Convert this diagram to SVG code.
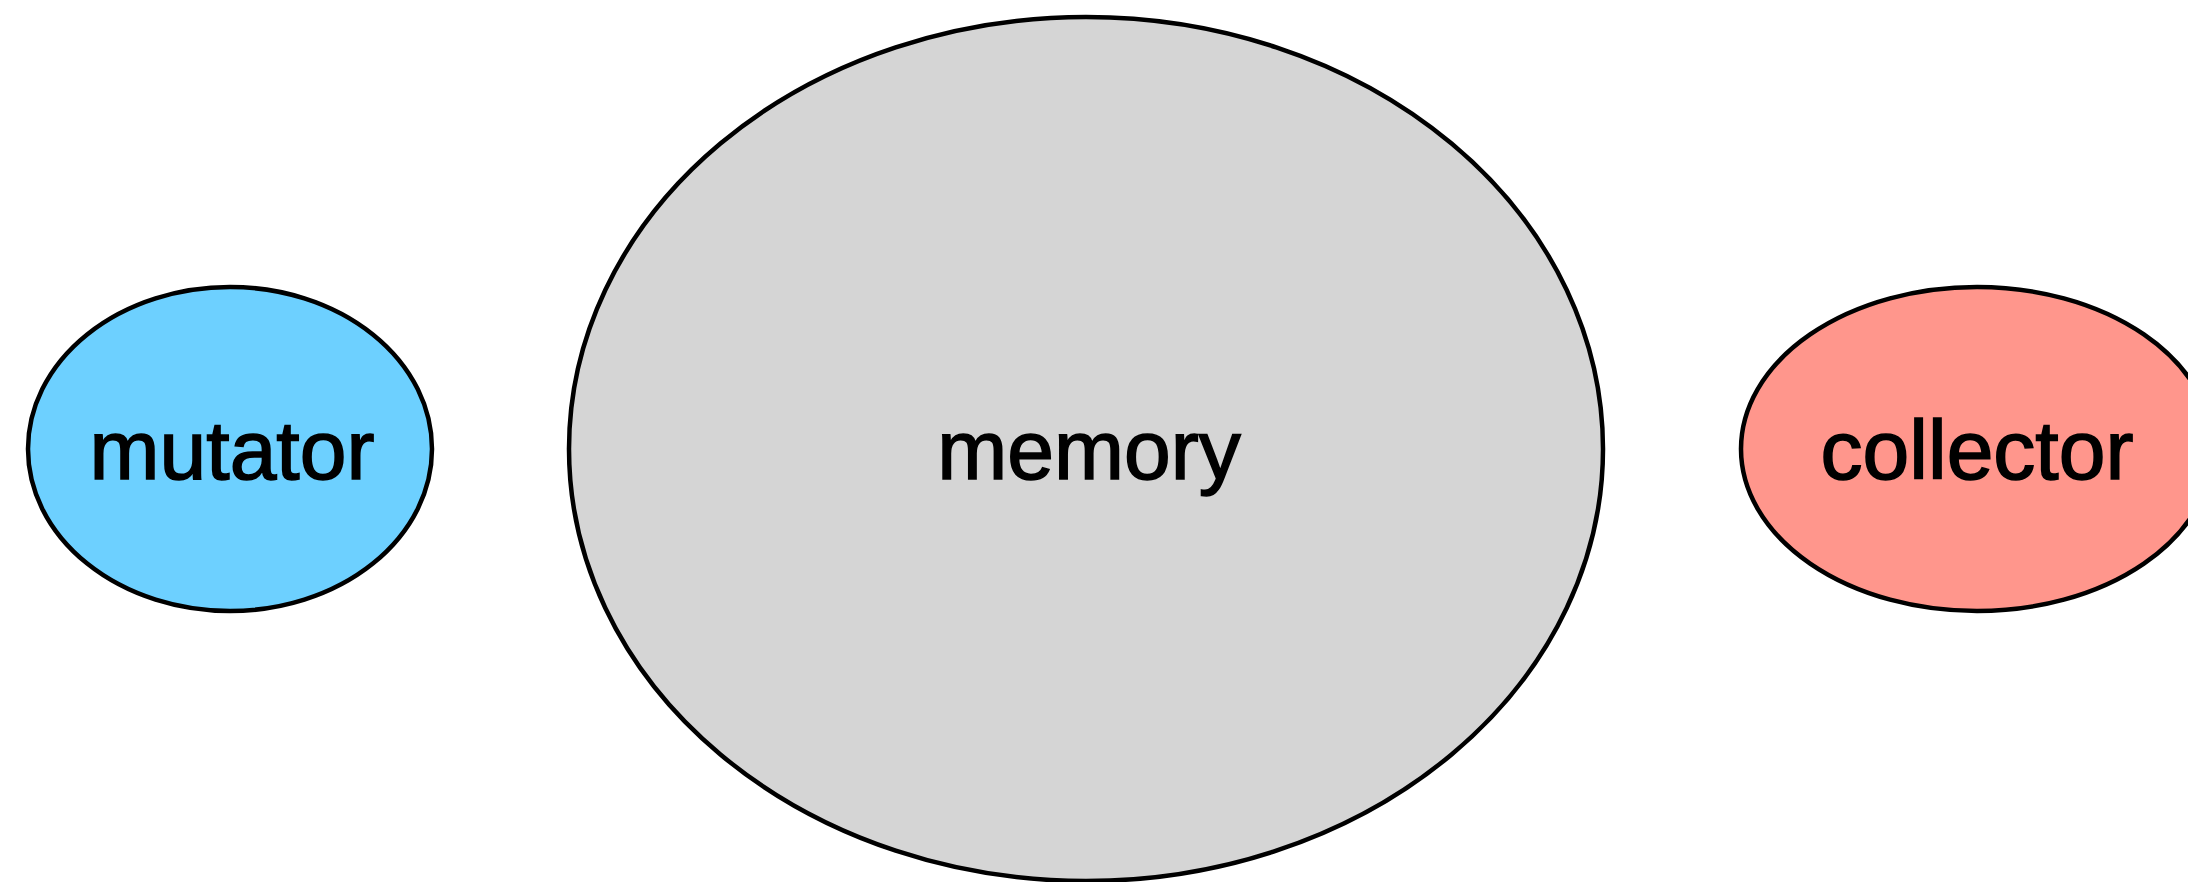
<svg xmlns="http://www.w3.org/2000/svg" width="2188" height="882" viewBox="0 0 2188 882">
<style>
.node{stroke:#000;stroke-width:4.5}
.label{font-family:"Liberation Sans",Arial,Helvetica,sans-serif;font-size:84px;fill:#000;stroke:#000;stroke-width:1.6;text-anchor:middle}
</style>
<rect width="2188" height="882" fill="#fff"/>
<g id="connectors"></g>
<g id="mutator">
<ellipse class="node" cx="230" cy="449" rx="202" ry="162" fill="#6DD0FF"/>
<text class="label" x="232" y="479">mutator</text>
</g>
<g id="memory">
<ellipse class="node" cx="1086" cy="449" rx="517" ry="432" fill="#D5D5D5"/>
<text class="label" x="1089" y="479">memory</text>
</g>
<g id="collector">
<ellipse class="node" cx="1977" cy="449" rx="236" ry="162" fill="#FF968C"/>
<text class="label" x="1977" y="479">collector</text>
</g>
</svg>
